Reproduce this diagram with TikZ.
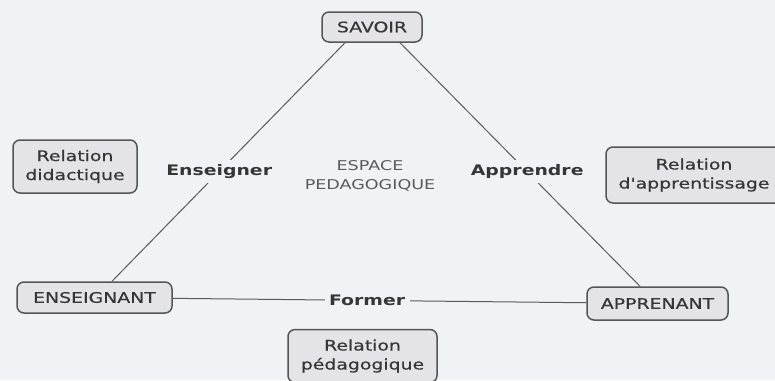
\documentclass[tikz,border=0pt]{standalone}
\usepackage{fontspec}
\setmainfont[FakeStretch=1.3]{DejaVu Sans}
\newfontfamily\boitefont[FakeStretch=1.3,FakeBold=0.5]{DejaVu Sans}
\definecolor{fond}{HTML}{F1F2F6}
\definecolor{remplir}{HTML}{E3E3E8}
\definecolor{bordure}{HTML}{555555}
\definecolor{texte}{HTML}{363636}
\definecolor{trait}{HTML}{5A5A5A}
\tikzset{
  boite/.style={draw=bordure, fill=remplir, rounded corners=7pt, line width=1.5pt,
    text=texte, align=center, font=\boitefont\fontsize{14.5}{19}\selectfont},
  verbe/.style={fill=fond, text=texte, inner sep=4.5pt, font=\bfseries\fontsize{14.5}{19}\selectfont},
  lien/.style={draw=trait, line width=1pt}
}
\begin{document}
\begin{tikzpicture}[x=1pt,y=-1pt]
        \useasboundingbox (0,0) rectangle (775,380);
        \fill[fond] (0,0) rectangle (775,380);
        \clip (0,0) rectangle (775,380);

        \node[boite, minimum width=100pt, minimum height=30pt] (savoir) at (372,27) {SAVOIR};
        \node[boite, minimum width=155pt, minimum height=31pt] (enseignant) at (94.5,297.5) {ENSEIGNANT};
        \node[boite, minimum width=141pt, minimum height=33pt] (apprenant) at (657.5,303.5) {APPRENANT};

        \node[boite, minimum width=124pt, minimum height=53pt] (didactique) at (75,166.5) {Relation\\didactique};
        \node[boite, minimum width=176pt, minimum height=56pt] (apprentissage) at (694,175) {Relation\\d'apprentissage};
        \node[boite, minimum width=149pt, minimum height=53pt] (pedagogique) at (362.5,356) {Relation\\pédagogique};

        \node[text=trait, align=center, font=\fontsize{13.5}{18.5}\selectfont] (espace) at (370,176) {ESPACE\\PEDAGOGIQUE};

        \draw[lien] ([xshift=-27pt]savoir.south) -- node[verbe, pos=.54] (enseigner) {Enseigner} ([xshift=17.5pt]enseignant.north);
        \draw[lien] ([xshift=28pt]savoir.south) -- node[verbe, pos=.53] (apprendre) {Apprendre} ([xshift=-17.5pt]apprenant.north);
        \draw[lien] (enseignant) -- node[verbe, pos=.47] (former) {Former} (apprenant);

    \end{tikzpicture}
\end{document}
